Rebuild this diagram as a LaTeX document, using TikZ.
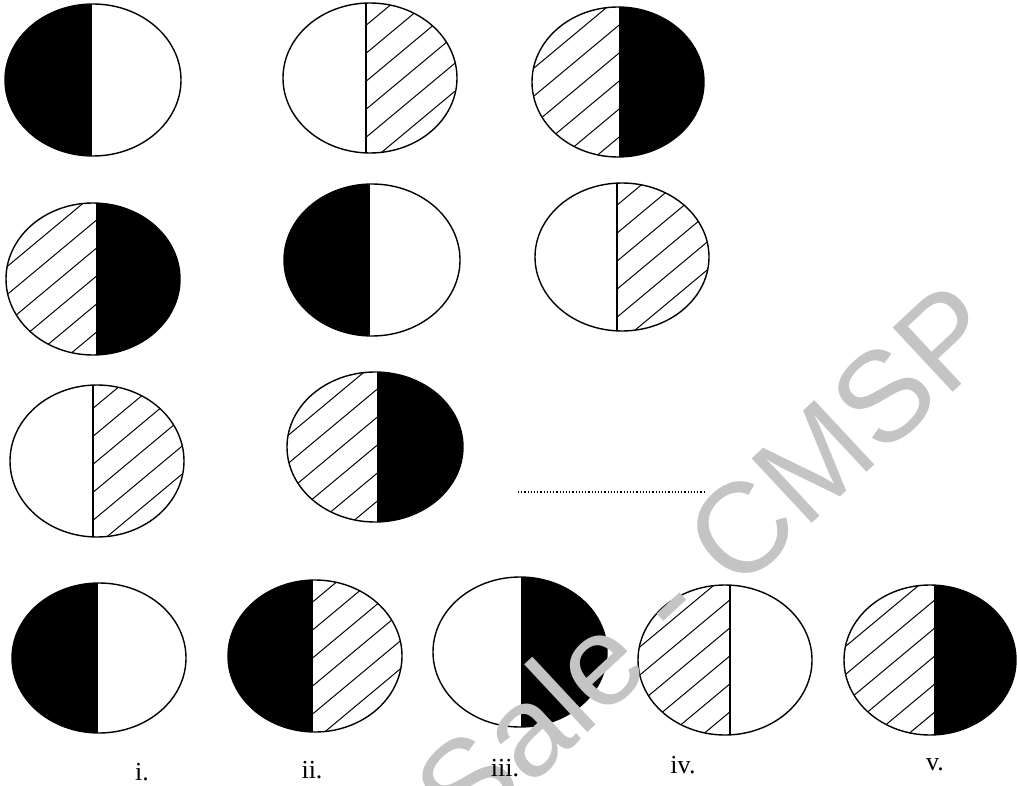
\documentclass[tikz,border=0pt]{standalone}
\usepackage{fontspec}
\setmainfont{Liberation Serif}
\newfontfamily\wmfont{Liberation Sans}
\tikzset{
  outline/.style={line width=1.4pt, black},
  hatchline/.style={line width=1.0pt, black},
  lbl/.style={font=\fontsize{26}{30}\selectfont, inner sep=0pt},
  wmark/.style={font=\wmfont\fontsize{128}{136}\selectfont, text=black!23, inner sep=0pt},
}
% #1 type (0 white, 1 black, 2 hatched), #2 left x, #3 right x, #4 cx, #5 cy
\newcommand\halfpaint[5]{%
  \ifcase#1\relax
  \or \fill[black] (#2,#5-100) rectangle (#3,#5+100);
  \or \begin{scope}
        \clip (#2,#5-100) rectangle (#3,#5+100);
        \foreach \k in {-10,...,10}{\draw[hatchline] (#4-150,#5+\k*28+125) -- (#4+150,#5+\k*28-125);}
      \end{scope}
  \fi}
% #1 cx, #2 cy, #3 rx, #4 ry, #5 split x, #6 left type, #7 right type
\newcommand\moon[7]{%
  \begin{scope}
    \clip (#1,#2) ellipse [x radius=#3, y radius=#4];
    \halfpaint{#6}{#1-#3-3}{#5}{#1}{#2}
    \halfpaint{#7}{#5}{#1+#3+3}{#1}{#2}
    \draw[outline] (#5,#2-#4-3) -- (#5,#2+#4+3);
  \end{scope}
  \draw[outline] (#1,#2) ellipse [x radius=#3, y radius=#4];}
\begin{document}
\begin{tikzpicture}[x=1pt,y=-1pt]
\useasboundingbox (0,0) rectangle (1017,786);
% row 1
\moon{93}{80}{88}{76}{91}{1}{0}
\moon{370}{78}{87}{75}{366}{0}{2}
\moon{618}{82}{86}{75}{620}{2}{1}
% row 2
\moon{93}{279}{87}{76}{97}{2}{1}
\moon{372}{260}{88}{76}{369}{1}{0}
\moon{622}{257}{87}{74}{617}{0}{2}
% row 3
\moon{97}{461}{87}{76}{93}{0}{2}
\moon{375}{447}{88}{75}{378}{2}{1}
\coordinate (blankA) at (518,492);
\coordinate (blankB) at (705,492);
\draw[line width=1.2pt, dotted] (blankA) -- (blankB);
% row 4 (options)
\moon{99}{658}{87}{75}{97}{1}{0}
\moon{315}{656}{87}{76}{312}{1}{2}
\moon{520}{652}{87}{75}{522}{0}{1}
\moon{725}{660}{87}{75}{730}{2}{0}
\moon{930}{660}{86}{75}{935}{2}{1}
% watermark
\node[wmark, rotate=43] (wm) at (706,560) {Sale - CMSP};
% labels
\node[lbl] (li) at (142,772) {i.};
\node[lbl] (lii) at (312,770) {ii.};
\node[lbl] (liii) at (505,768) {iii.};
\node[lbl] (liv) at (683,765) {iv.};
\node[lbl] (lv) at (935,765) {v.};
\end{tikzpicture}
\end{document}
